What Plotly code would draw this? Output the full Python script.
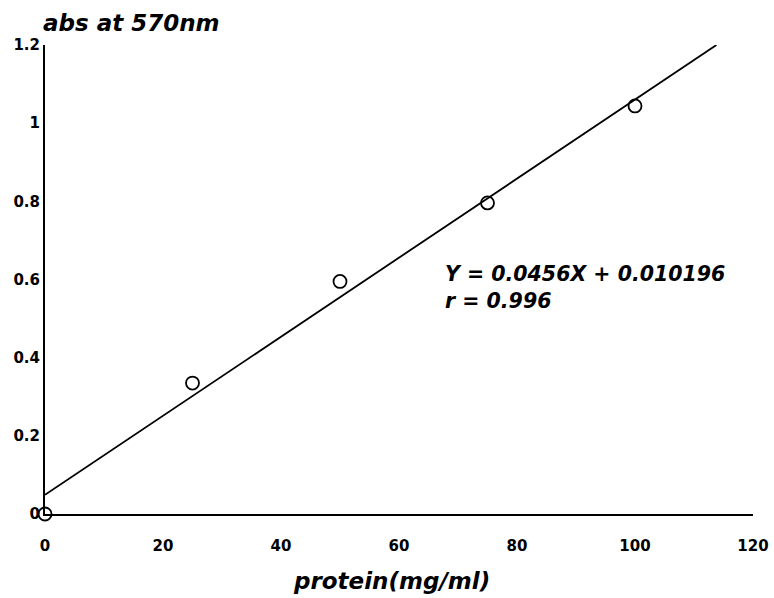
import plotly.graph_objects as go

# Data
protein = [0, 25, 50, 75, 100]
absorbance = [0.0, 0.335, 0.595, 0.796, 1.044]

fit_x = [0, 113.8]
fit_y = [0.049, 1.2]

x_ticks = [0, 20, 40, 60, 80, 100, 120]
x_tick_labels = ["0", "20", "40", "60", "80", "100", "120"]
y_ticks = [0, 0.2, 0.4, 0.6, 0.8, 1.0, 1.2]
y_tick_labels = ["0", "0.2", "0.4", "0.6", "0.8", "1", "1.2"]

equation_text = "Y = 0.0456X + 0.010196<br>r = 0.996"

FONT = "DejaVu Sans, Liberation Sans, Arial, sans-serif"

fig = go.Figure()
fig.add_trace(go.Scatter(
    x=fit_x, y=fit_y, mode="lines",
    line=dict(color="black", width=1.8), showlegend=False, hoverinfo="skip",
    cliponaxis=False))
fig.add_trace(go.Scatter(
    x=protein, y=absorbance, mode="markers",
    marker=dict(symbol="circle-open", size=13, color="black", line=dict(width=1.8)),
    showlegend=False, cliponaxis=False))

fig.add_annotation(
    x=0, y=1.0, xref="paper", yref="paper", xanchor="left", yanchor="bottom",
    yshift=7, xshift=-4, showarrow=False,
    text="<b><i>abs at 570nm</i></b>", font=dict(family=FONT, size=23, color="black"))

fig.add_annotation(
    x=67.5, y=0.65, xref="x", yref="y", xanchor="left", yanchor="top",
    showarrow=False, align="left",
    text="<b><i>" + equation_text + "</i></b>",
    font=dict(family=FONT, size=20.5, color="black"))

fig.add_annotation(
    x=0.49, y=0, xref="paper", yref="paper", xanchor="center", yanchor="top",
    yshift=-52, showarrow=False,
    text="<b><i>protein(mg/ml)</i></b>", font=dict(family=FONT, size=23, color="black"))

fig.update_layout(
    width=774, height=598,
    margin=dict(l=45, r=21, t=45, b=84, autoexpand=False),
    paper_bgcolor="white", plot_bgcolor="white",
    font=dict(family=FONT, color="black"),
    xaxis=dict(
        range=[0, 120], tickvals=x_ticks, ticktext=["<b>%s</b>" % t for t in x_tick_labels],
        showgrid=False, zeroline=False, showline=True, linecolor="black", linewidth=2,
        automargin=False,
        ticks="", ticklabelstandoff=17, tickfont=dict(family=FONT, size=15, color="black")),
    yaxis=dict(
        range=[0, 1.2], tickvals=y_ticks, ticktext=["<b>%s</b>" % t for t in y_tick_labels],
        showgrid=False, zeroline=False, showline=True, linecolor="black", linewidth=2,
        automargin=False,
        ticks="", ticklabelstandoff=0, tickfont=dict(family=FONT, size=15, color="black")),
)

fig.write_html("out.html")
